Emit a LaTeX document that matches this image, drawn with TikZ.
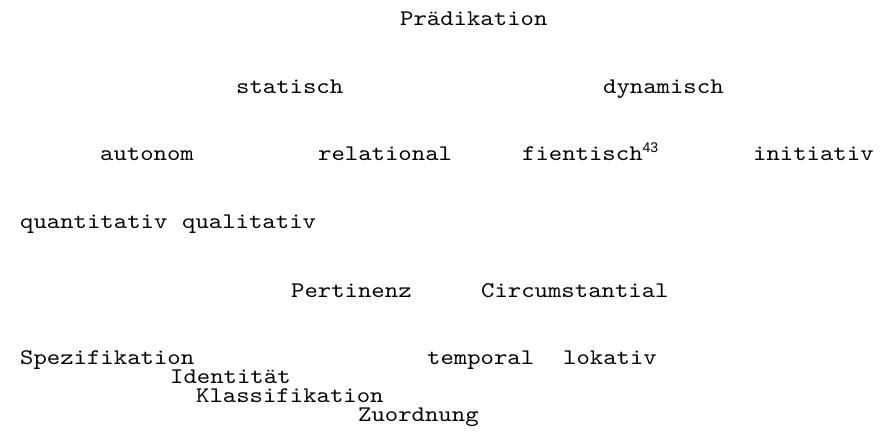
\documentclass[tikz,border=0pt]{standalone}
\usepackage{fontspec}
\setmainfont{lmmono10-regular.otf}[FakeStretch=1.143]
\newfontfamily\supfont{Liberation Sans}
\newcommand{\supnum}[1]{\raisebox{8pt}{\fontsize{14}{14}\selectfont\supfont #1}}
\usepackage{tikz}
\usetikzlibrary{positioning}

\begin{document}
\begin{tikzpicture}[x=1pt, y=-1pt,
  every node/.style={font=\fontsize{22.3}{22.3}\selectfont, inner sep=0pt, anchor=base west}]
  \useasboundingbox (0,0) rectangle (892,434);

  % Top level
  \node (prad) at (400,25) {Prädikation};

  % Second level
  \node (stat) at (236,93) {statisch};
  \node (dyn)  at (603,93) {dynamisch};

  % Third level
  \node (auton) at (100,160) {autonom};
  \node (rel)   at (318,160) {relational};
  \node (fient) at (522,160) {fientisch\supnum{43}};
  \node (init)  at (753,160) {initiativ};

  % Autonomous predication
  \node (quant) at (20,228)  {quantitativ};
  \node (qual)  at (182,228) {qualitativ};

  % Relational predication
  \node (pert) at (291,297) {Pertinenz};
  \node (circ) at (481,297) {Circumstantial};

  % Bottom level
  \node (spez)  at (20,364)  {Spezifikation};
  \node (temp)  at (427,364) {temporal};
  \node (lok)   at (563,364) {lokativ};
  \node (ident) at (170,383) {Identität};
  \node (klass) at (196,402) {Klassifikation};
  \node (zuord) at (358,421) {Zuordnung};

\end{tikzpicture}
\end{document}
